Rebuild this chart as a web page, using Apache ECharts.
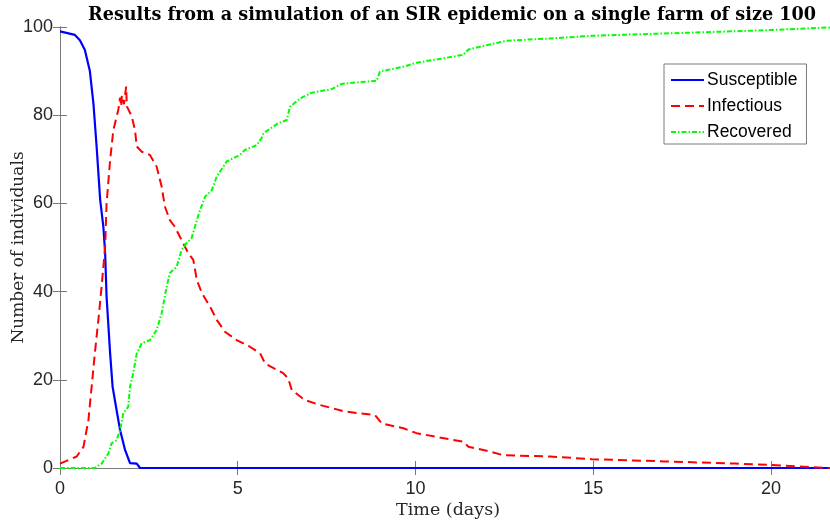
<!DOCTYPE html>
<html>
<head>
<meta charset="utf-8">
<script src="https://cdn.jsdelivr.net/npm/echarts@6/dist/echarts.min.js"></script>
<style>
  html, body { margin: 0; padding: 0; background: #fff; }
  #chart { width: 830px; height: 525px; }
</style>
</head>
<body>
<div id="chart"></div>
<script>
// values (time in days, number of individuals)
var susceptibleT = [0, 0.42, 0.56, 0.70, 0.84, 0.94, 1.03, 1.13, 1.22, 1.27, 1.31, 1.41, 1.48, 1.59, 1.69, 1.83, 1.97, 2.16, 2.25, 21.83];
var susceptibleN = [99, 98.2, 97, 94.8, 90, 82.7, 72.9, 60.8, 54.7, 48.7, 38.9, 26, 18.4, 13.2, 8.6, 4.1, 1.1, 1, 0, 0];

var infectiousT = [0, 0.47, 0.66, 0.80, 0.89, 0.98, 1.08, 1.17, 1.27, 1.31, 1.41, 1.50, 1.64, 1.69, 1.72, 1.74, 1.80, 1.86, 1.88,
  1.92, 2.02, 2.11, 2.16, 2.30, 2.53, 2.72, 2.86, 2.95, 3.09, 3.23, 3.42, 3.61, 3.75, 3.85, 3.99, 4.22, 4.41, 4.64, 4.97,
  5.34, 5.63, 5.77, 6.28, 6.42, 6.52, 6.89, 7.31, 7.69, 8.02, 8.86, 9.05, 9.66, 10.03, 10.97, 11.34, 11.49, 11.91, 12.47,
  13.78, 14.96, 17, 19, 19.97, 20.9, 21.57, 21.83];
var infectiousN = [1, 2.6, 4.8, 10.9, 18.4, 26, 33.6, 41.1, 50.2, 60, 69.8, 76.6, 81.2, 84, 82, 84.5, 82.5, 86.5, 82,
  82, 79.7, 76.6, 72.9, 71.7, 71, 68.3, 63.8, 59.3, 56.2, 54.7, 51.7, 48.7, 47.2, 42.6, 39.7, 36.6, 33.6, 30.9, 29,
  27.5, 26, 23.7, 21.5, 20.3, 17.7, 15.4, 14.3, 13.5, 12.8, 12, 10.1, 9, 7.9, 6.5, 6, 4.8, 4.1, 2.9,
  2.6, 2, 1.5, 1, 0.7, 0.3, 0, 0];

var recoveredT = [0, 0.98, 1.17, 1.36, 1.45, 1.59, 1.69, 1.78, 1.92, 1.97, 2.06, 2.16, 2.30, 2.53, 2.72, 2.86, 3.00, 3.09,
  3.28, 3.42, 3.56, 3.70, 3.85, 3.94, 4.08, 4.27, 4.41, 4.59, 4.69, 5.06, 5.20, 5.53, 5.67, 5.72, 6.00, 6.14, 6.38, 6.47,
  6.75, 7.08, 7.64, 7.92, 8.44, 8.91, 9.00, 9.66, 10.03, 10.78, 11.34, 11.49, 11.91, 12.57, 13.78, 14.96, 19.97, 21.66, 21.83];
var recoveredN = [0, 0, 1, 3.3, 5.6, 6.3, 8.6, 12.4, 13.9, 18.4, 21.5, 26, 28.3, 29, 31.3, 35.1, 41.1, 44.2,
  45.6, 49.4, 51, 52.1, 56.2, 58.5, 61.5, 63, 66.1, 68.3, 69.5, 71, 72.1, 73.2, 74.8, 75.9, 77.4, 78.2, 78.9, 81.9,
  83.8, 85.1, 85.9, 87.1, 87.5, 87.8, 89.9, 91, 91.9, 92.9, 93.7, 94.9, 95.7, 96.9, 97.4, 98, 99.3, 99.9, 100];

var seriesNames = ['Susceptible', 'Infectious', 'Recovered'];
var xTickValues = [0, 5, 10, 15, 20];
var yTickValues = [0, 20, 40, 60, 80, 100];
var tMax = 21.83;

function pairs(t, n) {
    var out = [];
    for (var i = 0; i < t.length; i++) {
        out.push([t[i], n[i]]);
    }
    return out;
}

var axisColor = '#7a7a7a';
var labelColor = '#262626';

var myChart = echarts.init(document.getElementById('chart'));

var option = {
    backgroundColor: '#FFFFFF',
    animation: false,
    title: {
        text: 'Results from a simulation of an SIR epidemic on a single farm of size 100',
        left: 447,
        textAlign: 'center',
        top: 1,
        textStyle: {
            fontFamily: 'DejaVu Serif',
            fontWeight: 'bold',
            fontSize: 17.6,
            color: '#000'
        }
    },
    legend: {
        orient: 'vertical',
        left: 664,
        top: 64,
        padding: [7, 9, 3, 6],
        itemWidth: 33,
        itemHeight: 14,
        itemGap: 8,
        backgroundColor: '#fff',
        borderColor: axisColor,
        borderWidth: 1,
        borderRadius: 0,
        itemStyle: { color: 'transparent', borderWidth: 0, opacity: 0 },
        textStyle: {
            fontFamily: 'Liberation Sans',
            fontSize: 17.5,
            color: '#000',
            padding: [0, 0, 0, -2]
        },
        data: seriesNames
    },
    grid: {
        left: 60,
        right: -6,
        top: 27,
        bottom: 57,
        containLabel: false,
        outerBoundsMode: 'none'
    },
    xAxis: [
        {
            type: 'value',
            min: 0,
            max: tMax,
            interval: 5,
            name: 'Time (days)',
            nameLocation: 'middle',
            nameGap: 33,
            nameMoveOverlap: false,
            nameTextStyle: { fontFamily: 'DejaVu Serif', fontSize: 17.5, color: labelColor },
            axisLine: { lineStyle: { color: axisColor, width: 1 } },
            axisTick: { inside: true, length: 7, lineStyle: { color: axisColor } },
            axisLabel: {
                margin: 12,
                fontFamily: 'Liberation Sans',
                fontSize: 18,
                color: labelColor,
                showMaxLabel: false,
                formatter: function (v) {
                    return xTickValues.indexOf(v) > -1 ? String(v) : '';
                }
            },
            splitLine: { show: false }
        },
        {
            type: 'value',
            position: 'top',
            min: 0,
            max: tMax,
            interval: 5,
            axisLine: { lineStyle: { color: axisColor, width: 1 } },
            axisTick: { inside: true, length: 7, lineStyle: { color: axisColor } },
            axisLabel: { show: false },
            splitLine: { show: false }
        }
    ],
    yAxis: [
        {
            type: 'value',
            min: 0,
            max: 100,
            interval: 20,
            name: 'Number of individuals',
            nameLocation: 'middle',
            nameGap: 33,
            nameMoveOverlap: false,
            nameTextStyle: { fontFamily: 'DejaVu Serif', fontSize: 17, color: labelColor },
            axisLine: { show: true, lineStyle: { color: axisColor, width: 1 } },
            axisTick: { show: true, inside: true, length: 7, lineStyle: { color: axisColor } },
            axisLabel: {
                margin: 7,
                fontFamily: 'Liberation Sans',
                fontSize: 18,
                color: labelColor,
                formatter: function (v) {
                    return yTickValues.indexOf(v) > -1 ? String(v) : '';
                }
            },
            splitLine: { show: false }
        },
        {
            type: 'value',
            position: 'right',
            min: 0,
            max: 100,
            interval: 20,
            axisLine: { show: true, lineStyle: { color: axisColor, width: 1 } },
            axisTick: { show: true, inside: true, length: 7, lineStyle: { color: axisColor } },
            axisLabel: { show: false },
            splitLine: { show: false }
        }
    ],
    series: [
        {
            name: seriesNames[0],
            type: 'line',
            data: pairs(susceptibleT, susceptibleN),
            symbol: 'none',
            lineStyle: { color: '#0000ff', width: 2.2 },
            itemStyle: { color: '#0000ff' },
            z: 2
        },
        {
            name: seriesNames[1],
            type: 'line',
            data: pairs(infectiousT, infectiousN),
            symbol: 'none',
            lineStyle: { color: '#ff0000', width: 2, type: [9, 5] },
            itemStyle: { color: '#ff0000' },
            z: 3
        },
        {
            name: seriesNames[2],
            type: 'line',
            data: pairs(recoveredT, recoveredN),
            symbol: 'none',
            lineStyle: { color: '#00ff00', width: 2, type: [5, 2, 1.5, 2] },
            itemStyle: { color: '#00ff00' },
            z: 4
        }
    ]
};

if (option && typeof option === 'object') {
    myChart.setOption(option);
}
</script>
</body>
</html>
